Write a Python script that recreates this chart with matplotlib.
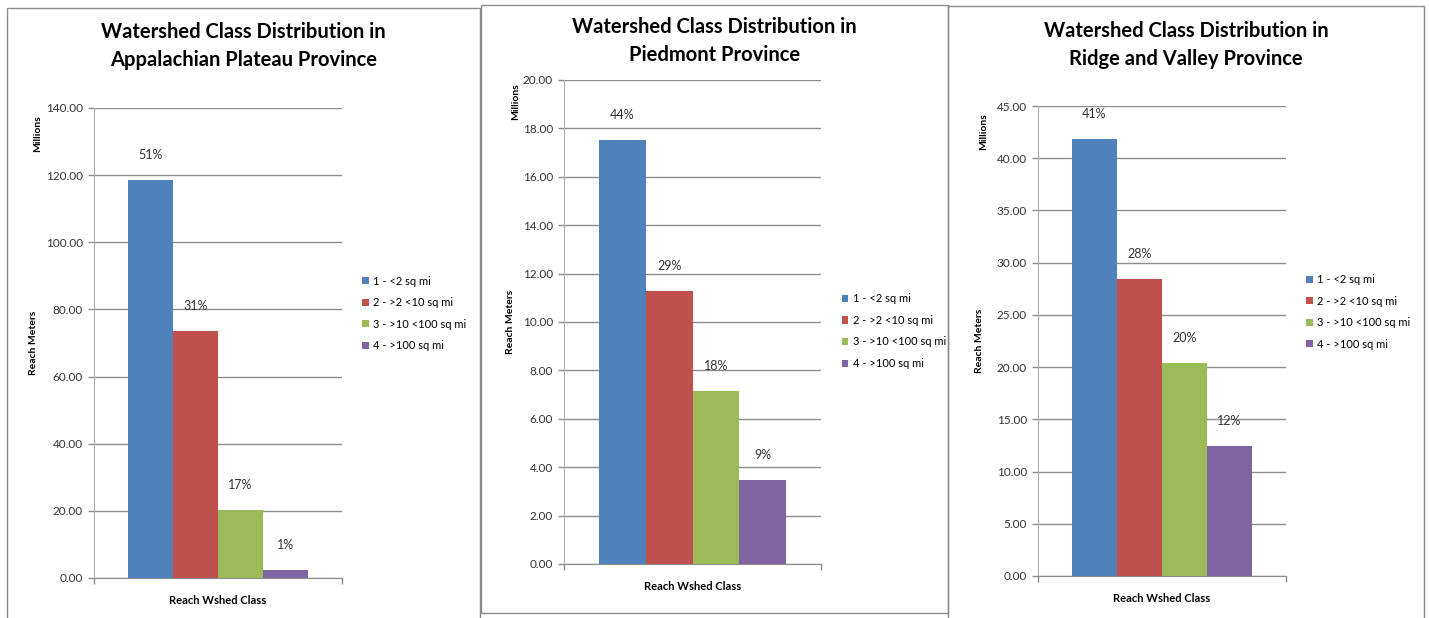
import matplotlib
matplotlib.use('Agg')
import matplotlib.pyplot as plt
from matplotlib.patches import Rectangle

plt.rcParams['font.family'] = ['Lato', 'DejaVu Sans']

classes = ['1 - <2 sq mi', '2 - >2 <10 sq mi', '3 - >10 <100 sq mi', '4 - >100 sq mi']
colors = ['#4F81BD', '#C0504D', '#9BBB59', '#8064A2']

titles = ['Watershed Class Distribution in\nAppalachian Plateau Province',
          'Watershed Class Distribution in\nPiedmont Province',
          'Watershed Class Distribution in\nRidge and Valley Province']

# reach meters, millions
appalachian = [118.5, 73.7, 20.3, 2.4]
piedmont = [17.5, 11.3, 7.15, 3.47]
ridge_valley = [41.8, 28.4, 20.4, 12.45]

appalachian_pct = ['51%', '31%', '17%', '1%']
piedmont_pct = ['44%', '29%', '18%', '9%']
ridge_valley_pct = ['41%', '28%', '20%', '12%']

ymax = [140, 20, 45]
ystep = [20, 2, 5]

W, H = 1429, 618
fig = plt.figure(figsize=(W / 100, H / 100), dpi=100)
fig.patch.set_facecolor('white')


def px_box(x0, y0, x1, y1):
    return [x0 / W, 1 - y1 / H, (x1 - x0) / W, (y1 - y0) / H]


# panel frames (pixel coords: left, top, right, bottom)
frames = [(7, 8, 480, 630), (481, 5, 948, 613), (948, 6, 1424, 630)]
for x0, y0, x1, y1 in frames:
    fig.patches.append(Rectangle((x0 / W, 1 - y1 / H), (x1 - x0) / W, (y1 - y0) / H,
                                 transform=fig.transFigure, fill=False,
                                 edgecolor='#8a8a8a', lw=1.0))

axes_px = [(94, 108, 342, 578), (564, 80, 821, 564), (1038, 106, 1286, 576)]
title_y = [46, 41, 45]
legend_y = [0.563, 0.481, 0.562]
ylab_x = [-0.226, -0.19, -0.218]
mill_y = [0.945, 0.955, 0.945]

data = [appalachian, piedmont, ridge_valley]
pcts = [appalachian_pct, piedmont_pct, ridge_valley_pct]

group = 0.726
bw = group / 4
gridc = '#8c8c8c'

for i in range(3):
    x0, y0, x1, y1 = axes_px[i]
    ax = fig.add_axes(px_box(x0, y0, x1, y1))
    xs = [-group / 2 + bw * (k + 0.5) for k in range(4)]
    bars = ax.bar(xs, data[i], width=bw, color=colors, label=classes, zorder=3)
    for b, v, p in zip(bars, data[i], pcts[i]):
        ax.annotate(p, (b.get_x() + b.get_width() / 2, v), xytext=(0, 18),
                    textcoords='offset points', ha='center', va='center',
                    fontsize=9, color='#333333')
    ax.set_xlim(-0.5, 0.5)
    ax.set_ylim(0, ymax[i])
    ticks = [ystep[i] * k for k in range(int(ymax[i] / ystep[i]) + 1)]
    ax.set_yticks(ticks)
    ax.set_yticklabels(['%.2f' % t for t in ticks], fontsize=8.5, color='#333333')
    ax.set_xticks([-0.5, 0.5])
    ax.set_xticklabels(['', ''])
    ax.tick_params(axis='both', length=4, color=gridc, width=1)
    ax.tick_params(axis='y', pad=4)
    ax.grid(axis='y', color=gridc, lw=1)
    ax.set_axisbelow(True)
    for s in ['top', 'right']:
        ax.spines[s].set_visible(False)
    ax.spines['left'].set_color('#b0b0b0')
    ax.spines['bottom'].set_color(gridc)
    ax.set_xlabel('Reach Wshed Class', fontsize=8, fontweight='bold', labelpad=5)
    ax.set_ylabel('Reach Meters', fontsize=7.5, fontweight='bold')
    ax.yaxis.set_label_coords(ylab_x[i], 0.5)
    ax.text(ylab_x[i], mill_y[i], 'Millions', transform=ax.transAxes, rotation=90,
            ha='center', va='center', fontsize=7.5, fontweight='bold')
    ax.legend(loc='center left', bbox_to_anchor=(1.08, legend_y[i]), frameon=False,
              fontsize=8, handlelength=0.6, handleheight=0.6, handletextpad=0.4,
              labelspacing=0.95, borderpad=0, borderaxespad=0)
    fr = frames[i]
    fig.text((fr[0] + fr[2]) / 2 / W, 1 - title_y[i] / H, titles[i], ha='center',
             va='center', fontsize=14.5, fontweight='bold', linespacing=1.45)

fig.savefig('out.png', dpi=100)
